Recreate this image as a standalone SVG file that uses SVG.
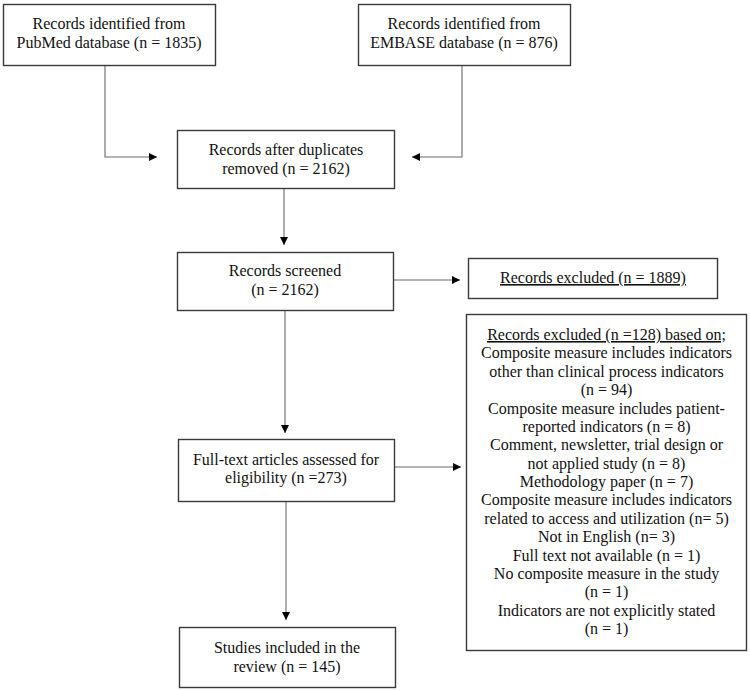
<svg xmlns="http://www.w3.org/2000/svg" width="750" height="690" viewBox="0 0 750 690">
<style>
.box{fill:#fff;stroke:#3a3a3a;stroke-width:1.4}
.t{font-family:"Liberation Serif","Times New Roman",serif;font-size:16px;fill:#111;text-anchor:middle}
.u{text-decoration:underline}
.c{fill:none;stroke:#6a6a6a;stroke-width:1.1}
</style>
<defs>
<marker id="ah" viewBox="0 0 10 10" refX="10" refY="5" markerWidth="8" markerHeight="8" markerUnits="userSpaceOnUse" orient="auto">
<path d="M0,0 L10,5 L0,10 Z" fill="#000"/>
</marker>
</defs>
<rect width="750" height="690" fill="#fff"/>
<g id="connectors">
<path class="c" d="M105,65 V157 H157" marker-end="url(#ah)"/>
<path class="c" d="M462,65 V157 H412" marker-end="url(#ah)"/>
<path class="c" d="M284,189 V245" marker-end="url(#ah)"/>
<path class="c" d="M394,280 H460" marker-end="url(#ah)"/>
<path class="c" d="M285,310 V433" marker-end="url(#ah)"/>
<path class="c" d="M394,467 H461" marker-end="url(#ah)"/>
<path class="c" d="M286,501 V620" marker-end="url(#ah)"/>
</g>
<g id="pubmed">
<rect class="box" x="3.5" y="4.5" width="212" height="61"/>
<text class="t" x="109" y="29">Records identified from</text>
<text class="t" x="109" y="48">PubMed database (n = 1835)</text>
</g>
<g id="embase">
<rect class="box" x="358.5" y="4.5" width="212" height="61"/>
<text class="t" x="464" y="29">Records identified from</text>
<text class="t" x="464" y="48">EMBASE database (n = 876)</text>
</g>
<g id="duplicates">
<rect class="box" x="177.5" y="130.5" width="217" height="58"/>
<text class="t" x="286" y="155">Records after duplicates</text>
<text class="t" x="286" y="174">removed (n = 2162)</text>
</g>
<g id="screened">
<rect class="box" x="177.5" y="252.5" width="216" height="58"/>
<text class="t" x="285" y="276">Records screened</text>
<text class="t" x="285" y="295">(n = 2162)</text>
</g>
<g id="excluded1">
<rect class="box" x="468.5" y="258.5" width="249" height="40"/>
<text class="t u" x="593" y="283">Records excluded (n = 1889)</text>
</g>
<g id="fulltext">
<rect class="box" x="178.5" y="439.5" width="216" height="62"/>
<text class="t" x="286" y="465">Full-text articles assessed for</text>
<text class="t" x="286" y="483">eligibility (n =273)</text>
</g>
<g id="excluded2">
<rect class="box" x="466.5" y="314.5" width="280" height="336"/>
<text class="t" x="606.5" y="340"><tspan class="u">Records excluded (n =128) based on;</tspan></text>
<text class="t" x="606.5" y="358.4">Composite measure includes indicators</text>
<text class="t" x="606.5" y="376.8">other than clinical process indicators</text>
<text class="t" x="606.5" y="395.1">(n = 94)</text>
<text class="t" x="606.5" y="413.5">Composite measure includes patient-</text>
<text class="t" x="606.5" y="431.9">reported indicators (n = 8)</text>
<text class="t" x="606.5" y="450.3">Comment, newsletter, trial design or</text>
<text class="t" x="606.5" y="468.6">not applied study (n = 8)</text>
<text class="t" x="606.5" y="487">Methodology paper (n = 7)</text>
<text class="t" x="606.5" y="505.4">Composite measure includes indicators</text>
<text class="t" x="606.5" y="523.8">related to access and utilization (n= 5)</text>
<text class="t" x="606.5" y="542.1">Not in English (n= 3)</text>
<text class="t" x="606.5" y="560.5">Full text not available (n = 1)</text>
<text class="t" x="606.5" y="578.9">No composite measure in the study</text>
<text class="t" x="606.5" y="597.3">(n = 1)</text>
<text class="t" x="606.5" y="615.6">Indicators are not explicitly stated</text>
<text class="t" x="606.5" y="634">(n = 1)</text>
</g>
<g id="included">
<rect class="box" x="179.5" y="627.5" width="216" height="60"/>
<text class="t" x="287" y="653">Studies included in the</text>
<text class="t" x="287" y="672">review (n = 145)</text>
</g>
</svg>
